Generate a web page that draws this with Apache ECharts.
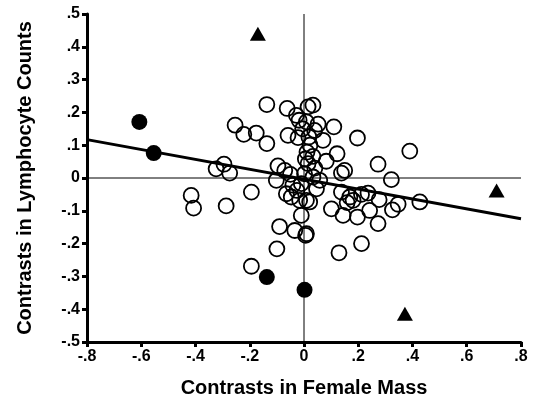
<!DOCTYPE html>
<html>
<head>
<meta charset="utf-8">
<script src="https://cdn.jsdelivr.net/npm/echarts@6/dist/echarts.min.js"></script>
<style>
  html, body { margin: 0; padding: 0; background: #fff; }
  #chart { width: 542px; height: 406px; }
</style>
</head>
<body>
<div id="chart"></div>
<script>
// open circles: [female mass contrast, lymphocyte contrast]
var openPoints = [
  [-0.137, 0.224], [-0.254, 0.161], [-0.222, 0.133], [-0.176, 0.137], [-0.137, 0.105],
  [-0.324, 0.028], [-0.295, 0.042], [-0.274, 0.015], [-0.416, -0.053], [-0.407, -0.092],
  [-0.287, -0.085], [-0.194, -0.043], [-0.062, 0.212], [-0.028, 0.191], [-0.018, 0.176],
  [0.015, 0.217], [0.033, 0.222], [0.052, 0.164], [0.009, 0.171], [0.039, 0.145],
  [-0.059, 0.130], [-0.022, 0.123], [0.018, 0.125], [0.070, 0.115], [0.110, 0.156],
  [0.197, 0.122], [0.011, 0.079], [0.033, 0.066], [0.015, 0.044], [0.082, 0.051],
  [0.122, 0.074], [0.138, 0.015], [0.150, 0.023], [0.273, 0.042], [0.322, -0.005],
  [0.390, 0.082], [-0.096, 0.037], [-0.071, 0.023], [-0.050, 0.011], [-0.102, -0.007],
  [-0.065, -0.048], [-0.047, -0.058], [-0.026, -0.038], [-0.016, -0.068], [0.009, -0.068],
  [0.021, -0.073], [0.046, -0.033], [0.058, -0.007], [0.033, 0.003], [-0.010, -0.017],
  [-0.010, -0.114], [-0.090, -0.148], [-0.034, -0.160], [0.009, -0.170], [0.006, -0.175],
  [-0.100, -0.216], [-0.194, -0.269], [0.129, -0.228], [0.212, -0.200], [0.101, -0.094],
  [0.144, -0.114], [0.138, -0.043], [0.169, -0.058], [0.181, -0.068], [0.212, -0.050],
  [0.236, -0.046], [0.197, -0.119], [0.242, -0.099], [0.277, -0.066], [0.273, -0.139],
  [0.326, -0.097], [0.347, -0.080], [0.427, -0.073], [0.159, -0.075], [-0.041, -0.022],
  [0.002, 0.013], [0.005, 0.058], [-0.005, 0.150], [0.022, 0.100], [0.040, 0.030]
];
var filledPoints = [[-0.607, 0.171], [-0.554, 0.076], [-0.137, -0.302], [0.002, -0.341]];
var trianglePoints = [[-0.17, 0.44], [0.71, -0.038], [0.372, -0.414]];
var fitLine = [[-0.8, 0.117], [0.8, -0.124]];

function tickFmt(v) {
  var s = (Math.round(v * 10) / 10).toString();
  return s.replace(/^(-?)0\./, '$1.');
}

var chart = echarts.init(document.getElementById('chart'));
var option = {
  backgroundColor: '#fff',
  animation: false,
  grid: { left: 87, right: 21, top: 14, bottom: 64 },
  xAxis: {
    type: 'value', min: -0.8, max: 0.8, interval: 0.2,
    splitLine: { show: false },
    axisLine: { onZero: false, lineStyle: { color: '#000', width: 3 } },
    axisTick: { inside: false, length: 5, lineStyle: { color: '#000', width: 3 } },
    axisLabel: { color: '#000', fontFamily: 'Liberation Sans', fontWeight: 'bold', fontSize: 16, margin: 7, formatter: tickFmt },
    name: 'Contrasts in Female Mass', nameLocation: 'middle', nameGap: 36,
    nameTextStyle: { color: '#000', fontFamily: 'Liberation Sans', fontWeight: 'bold', fontSize: 20 }
  },
  yAxis: {
    type: 'value', min: -0.5, max: 0.5, interval: 0.1,
    splitLine: { show: false },
    axisLine: { onZero: false, lineStyle: { color: '#000', width: 3 } },
    axisTick: { inside: false, length: 5, lineStyle: { color: '#000', width: 3 } },
    axisLabel: { color: '#000', fontFamily: 'Liberation Sans', fontWeight: 'bold', fontSize: 16, margin: 7, formatter: tickFmt },
    name: 'Contrasts in Lymphocyte Counts', nameLocation: 'middle', nameGap: 52,
    nameTextStyle: { color: '#000', fontFamily: 'Liberation Sans', fontWeight: 'bold', fontSize: 20 }
  },
  series: [
    {
      type: 'line', data: [[0, -0.5], [0, 0.5]], symbol: 'none', silent: true,
      lineStyle: { color: '#000', width: 1 }, z: 1
    },
    {
      type: 'line', data: [[-0.8, 0], [0.8, 0]], symbol: 'none', silent: true,
      lineStyle: { color: '#000', width: 1 }, z: 1
    },
    {
      type: 'line', data: fitLine, symbol: 'none', silent: true,
      lineStyle: { color: '#000', width: 3 }, z: 2
    },
    {
      type: 'scatter', data: openPoints, symbol: 'circle', symbolSize: 15,
      itemStyle: { color: 'rgba(255,255,255,0)', borderColor: '#000', borderWidth: 1.8, opacity: 1 }, z: 3
    },
    {
      type: 'scatter', data: filledPoints, symbol: 'circle', symbolSize: 16,
      itemStyle: { color: '#000', opacity: 1 }, z: 4
    },
    {
      type: 'scatter', data: trianglePoints, symbol: 'triangle', symbolSize: [16, 14],
      itemStyle: { color: '#000', opacity: 1 }, z: 4
    }
  ]
};
chart.setOption(option);
window.addEventListener('resize', function () { chart.resize(); });
</script>
</body>
</html>
